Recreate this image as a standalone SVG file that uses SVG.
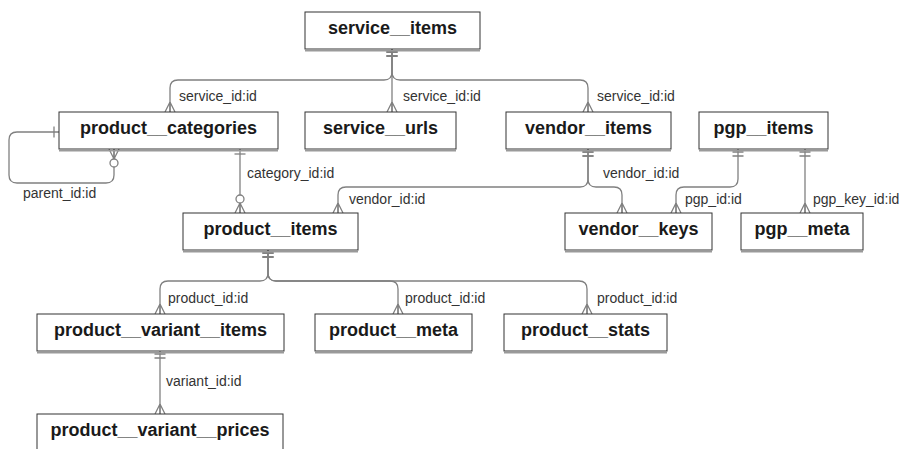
<svg xmlns="http://www.w3.org/2000/svg" width="901" height="449" viewBox="0 0 901 449">
  <style>
    .box rect { fill: #ffffff; stroke: #333333; stroke-width: 1; }
    .box line { stroke: #9a9a9a; stroke-width: 1.6; }
    .box text { font-family: "Liberation Sans", Arial, sans-serif; font-weight: bold; font-size: 18px; fill: #1a1a1a; text-anchor: middle; }
    .rel path { fill: none; stroke: #808080; stroke-width: 1.3; }
    .rel text { font-family: "Liberation Sans", Arial, sans-serif; font-size: 14px; fill: #333333; }
    .mk { fill: none; stroke: #808080; stroke-width: 1.3; }
  </style>
  <defs>
    <!-- one and only one -->
    <marker id="one-one" markerUnits="userSpaceOnUse" orient="auto" refX="0" refY="0" markerWidth="20" markerHeight="20" overflow="visible">
      <path class="mk" d="M3,-5.5 V5.5 M7,-5.5 V5.5"/>
    </marker>
    <!-- exactly one (single bar) -->
    <marker id="one" markerUnits="userSpaceOnUse" orient="auto" refX="0" refY="0" markerWidth="20" markerHeight="20" overflow="visible">
      <path class="mk" d="M5,-5.5 V5.5"/>
    </marker>
    <!-- many -->
    <marker id="many" markerUnits="userSpaceOnUse" orient="auto" refX="0" refY="0" markerWidth="20" markerHeight="20" overflow="visible">
      <path class="mk" d="M-10,0 L0,-5 M-10,0 L0,0 M-10,0 L0,5"/>
    </marker>
    <!-- zero or many -->
    <marker id="zero-many" markerUnits="userSpaceOnUse" orient="auto" refX="0" refY="0" markerWidth="30" markerHeight="20" overflow="visible">
      <path class="mk" d="M-10,0 L0,-5 M-10,0 L0,0 M-10,0 L0,5"/>
      <circle class="mk" cx="-14" cy="0" r="4" fill="#ffffff" style="fill:#ffffff"/>
    </marker>
  </defs>

  <!-- relationships -->
  <g id="connectors" class="rel">
    <path d="M392,49 V72 Q392,80 384,80 H178 Q170,80 170,88 V112" marker-start="url(#one-one)" marker-end="url(#many)"/>
    <path d="M392,49 V112" marker-start="url(#one-one)" marker-end="url(#many)"/>
    <path d="M392,49 V72 Q392,80 400,80 H580 Q588,80 588,88 V112" marker-start="url(#one-one)" marker-end="url(#many)"/>
    <text x="179" y="101">service_id:id</text>
    <text x="403" y="101">service_id:id</text>
    <text x="597" y="101">service_id:id</text>

    <path d="M59,132 H17 Q9,132 9,140 V175 Q9,183 17,183 H106 Q114,183 114,175 V149" marker-start="url(#one)" marker-end="url(#zero-many)"/>
    <text x="23" y="198">parent_id:id</text>

    <path d="M240,149 V213" marker-start="url(#one)" marker-end="url(#zero-many)"/>
    <text x="247" y="178">category_id:id</text>

    <path d="M588,149 V179 Q588,187 580,187 H346 Q338,187 338,195 V213" marker-start="url(#one-one)" marker-end="url(#many)"/>
    <text x="349" y="204">vendor_id:id</text>
    <path d="M588,149 V179 Q588,187 596,187 H614 Q622,187 622,195 V213" marker-start="url(#one-one)" marker-end="url(#many)"/>
    <text x="603" y="178">vendor_id:id</text>

    <path d="M738,149 V179 Q738,187 730,187 H684 Q676,187 676,195 V213" marker-start="url(#one-one)" marker-end="url(#many)"/>
    <text x="685" y="204">pgp_id:id</text>
    <path d="M805,149 V213" marker-start="url(#one-one)" marker-end="url(#many)"/>
    <text x="813" y="204">pgp_key_id:id</text>

    <path d="M268,250 V273 Q268,281 260,281 H168 Q160,281 160,289 V314" marker-start="url(#one-one)" marker-end="url(#many)"/>
    <path d="M268,250 V273 Q268,281 276,281 H390 Q398,281 398,289 V314" marker-start="url(#one-one)" marker-end="url(#many)"/>
    <path d="M268,250 V273 Q268,281 276,281 H579 Q587,281 587,289 V314" marker-start="url(#one-one)" marker-end="url(#many)"/>
    <text x="168" y="303">product_id:id</text>
    <text x="405" y="303">product_id:id</text>
    <text x="597" y="303">product_id:id</text>

    <path d="M160,351 V414" marker-start="url(#one-one)" marker-end="url(#many)"/>
    <text x="166" y="386">variant_id:id</text>
  </g>

  <!-- tables -->
  <g id="service__items" class="box">
    <rect x="305" y="12" width="175" height="37"/>
    <line x1="305" y1="50.8" x2="480" y2="50.8"/>
    <text x="392.5" y="34">service__items</text>
  </g>
  <g id="product__categories" class="box">
    <rect x="59" y="112" width="219" height="37"/>
    <line x1="59" y1="150.8" x2="278" y2="150.8"/>
    <text x="168.5" y="134">product__categories</text>
  </g>
  <g id="service__urls" class="box">
    <rect x="305" y="112" width="151" height="37"/>
    <line x1="305" y1="150.8" x2="456" y2="150.8"/>
    <text x="380.5" y="134">service__urls</text>
  </g>
  <g id="vendor__items" class="box">
    <rect x="506" y="112" width="165" height="37"/>
    <line x1="506" y1="150.8" x2="671" y2="150.8"/>
    <text x="588.5" y="134">vendor__items</text>
  </g>
  <g id="pgp__items" class="box">
    <rect x="699" y="112" width="129" height="37"/>
    <line x1="699" y1="150.8" x2="828" y2="150.8"/>
    <text x="763.5" y="134">pgp__items</text>
  </g>
  <g id="product__items" class="box">
    <rect x="183" y="213" width="175" height="37"/>
    <line x1="183" y1="251.8" x2="358" y2="251.8"/>
    <text x="270.5" y="235">product__items</text>
  </g>
  <g id="vendor__keys" class="box">
    <rect x="565" y="213" width="147" height="37"/>
    <line x1="565" y1="251.8" x2="712" y2="251.8"/>
    <text x="638.5" y="235">vendor__keys</text>
  </g>
  <g id="pgp__meta" class="box">
    <rect x="741" y="213" width="122" height="37"/>
    <line x1="741" y1="251.8" x2="863" y2="251.8"/>
    <text x="802" y="235">pgp__meta</text>
  </g>
  <g id="product__variant__items" class="box">
    <rect x="37" y="314" width="247" height="37"/>
    <line x1="37" y1="352.8" x2="284" y2="352.8"/>
    <text x="160.5" y="336">product__variant__items</text>
  </g>
  <g id="product__meta" class="box">
    <rect x="315" y="314" width="157" height="37"/>
    <line x1="315" y1="352.8" x2="472" y2="352.8"/>
    <text x="393.5" y="336">product__meta</text>
  </g>
  <g id="product__stats" class="box">
    <rect x="504" y="314" width="163" height="37"/>
    <line x1="504" y1="352.8" x2="667" y2="352.8"/>
    <text x="585.5" y="336">product__stats</text>
  </g>
  <g id="product__variant__prices" class="box">
    <rect x="37" y="414" width="246" height="37"/>
    <text x="160" y="436">product__variant__prices</text>
  </g>
</svg>
